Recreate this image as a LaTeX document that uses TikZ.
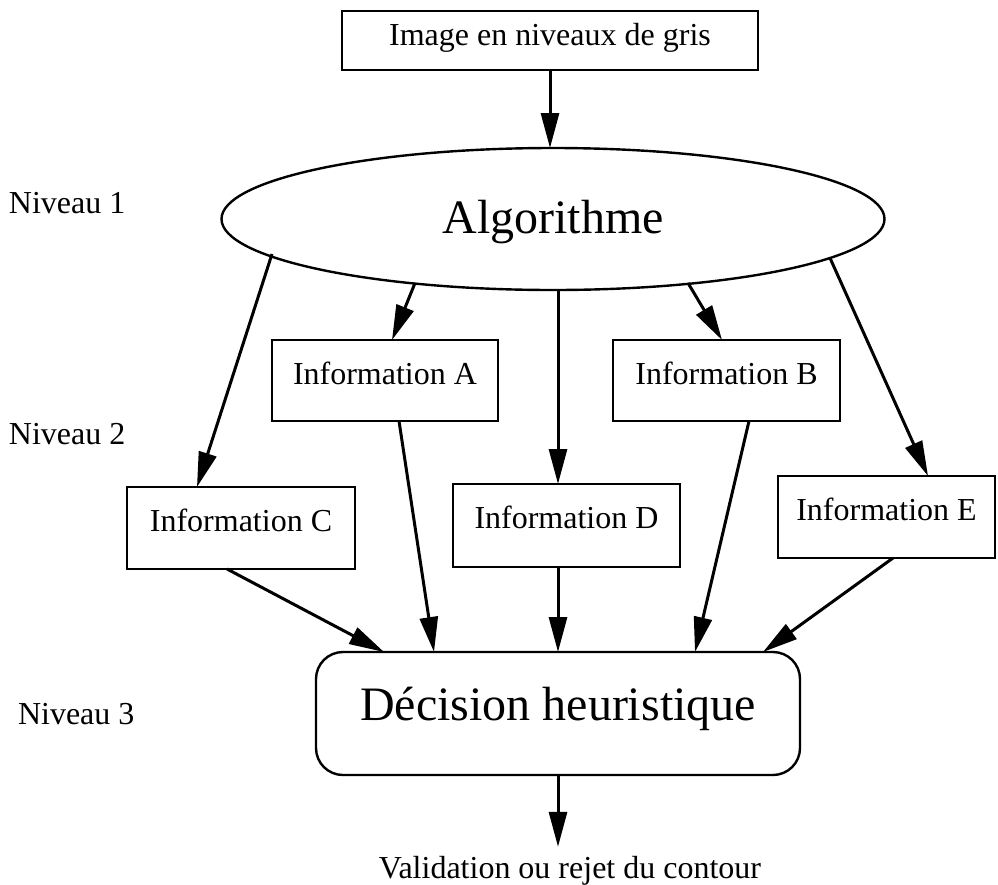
\documentclass[tikz,border=0pt]{standalone}
\usepackage{fontspec}
\setmainfont{Liberation Serif}
\usetikzlibrary{arrows.meta,shapes.geometric,calc}
\begin{document}
\begin{tikzpicture}[x=1pt,y=-1pt,
  small/.style={font=\fontsize{32}{38}\selectfont},
  big/.style={font=\fontsize{48}{56}\selectfont},
  box/.style={draw,line width=2.6pt,fill=white,inner sep=0pt,outer sep=0pt,anchor=north west,small,text height=44pt,text depth=38pt},
  lbl/.style={inner sep=0pt,outer sep=0pt,small},
  arr/.style={line width=3pt,-{Triangle[length=35pt,width=18pt]}}
]
\useasboundingbox (0,0) rectangle (998,884);
% nodes
\node[box,minimum width=416pt,text height=34pt,text depth=25pt] (top) at (342,11) {Image en niveaux de gris};
\node[draw,ellipse,line width=2.4pt,inner sep=0pt,outer sep=0pt,minimum width=663pt,minimum height=142pt,big,text height=40pt,text depth=12pt] (alg) at (553,219) {Algorithme};
\node[box,minimum width=226pt,text height=44pt,text depth=37pt] (infoA) at (272,340) {Information A};
\node[box,minimum width=227pt,text height=44pt,text depth=37pt] (infoB) at (613,340) {Information B};
\node[box,minimum width=228pt] (infoC) at (127,487) {Information C};
\node[box,minimum width=227pt,text depth=39pt] (infoD) at (453,484) {Information D};
\node[box,minimum width=217pt] (infoE) at (778,476) {Information E};
\node[draw,rounded corners=27pt,line width=2.4pt,inner sep=0pt,outer sep=0pt,anchor=north west,minimum width=484pt,big,text height=68pt,text depth=55pt] (dec) at (316,652) {Décision heuristique};
\node[lbl,anchor=base] (out) at (570,878) {Validation ou rejet du contour};
\node[lbl,anchor=base west] (n1) at (9,213) {Niveau 1};
\node[lbl,anchor=base west] (n2) at (9,444) {Niveau 2};
\node[lbl,anchor=base west] (n3) at (18,724) {Niveau 3};
% connectors
\draw[arr] (top.south) -- (top.south |- alg.north);
\draw[arr] ($(alg.center)+(-281,35)$) -- ($(infoC.north west)+(70,0)$);
\draw[arr] ($(alg.center)+(-138,64)$) -- ($(infoA.north west)+(120,0)$);
\draw[arr] ($(alg.center)+(5,71)$) -- ($(infoD.north west)+(105,0)$);
\draw[arr] ($(alg.center)+(135,64)$) -- ($(infoB.north west)+(109,0)$);
\draw[arr] ($(alg.center)+(277,39)$) -- ($(infoE.north west)+(150,0)$);
\draw[arr] ($(infoC.south west)+(100,0)$) -- ($(dec.north west)+(68,0)$);
\draw[arr] ($(infoA.south west)+(127,0)$) -- ($(dec.north west)+(118,0)$);
\draw[arr] ($(infoD.south west)+(105,0)$) -- ($(dec.north west)+(242,0)$);
\draw[arr] ($(infoB.south west)+(136,0)$) -- ($(dec.north west)+(379,0)$);
\draw[arr] ($(infoE.south west)+(115,0)$) -- ($(dec.north west)+(447,0)$);
\draw[arr,shorten >=9pt] (dec.south) -- (dec.south |- out.north);
\end{tikzpicture}
\end{document}
